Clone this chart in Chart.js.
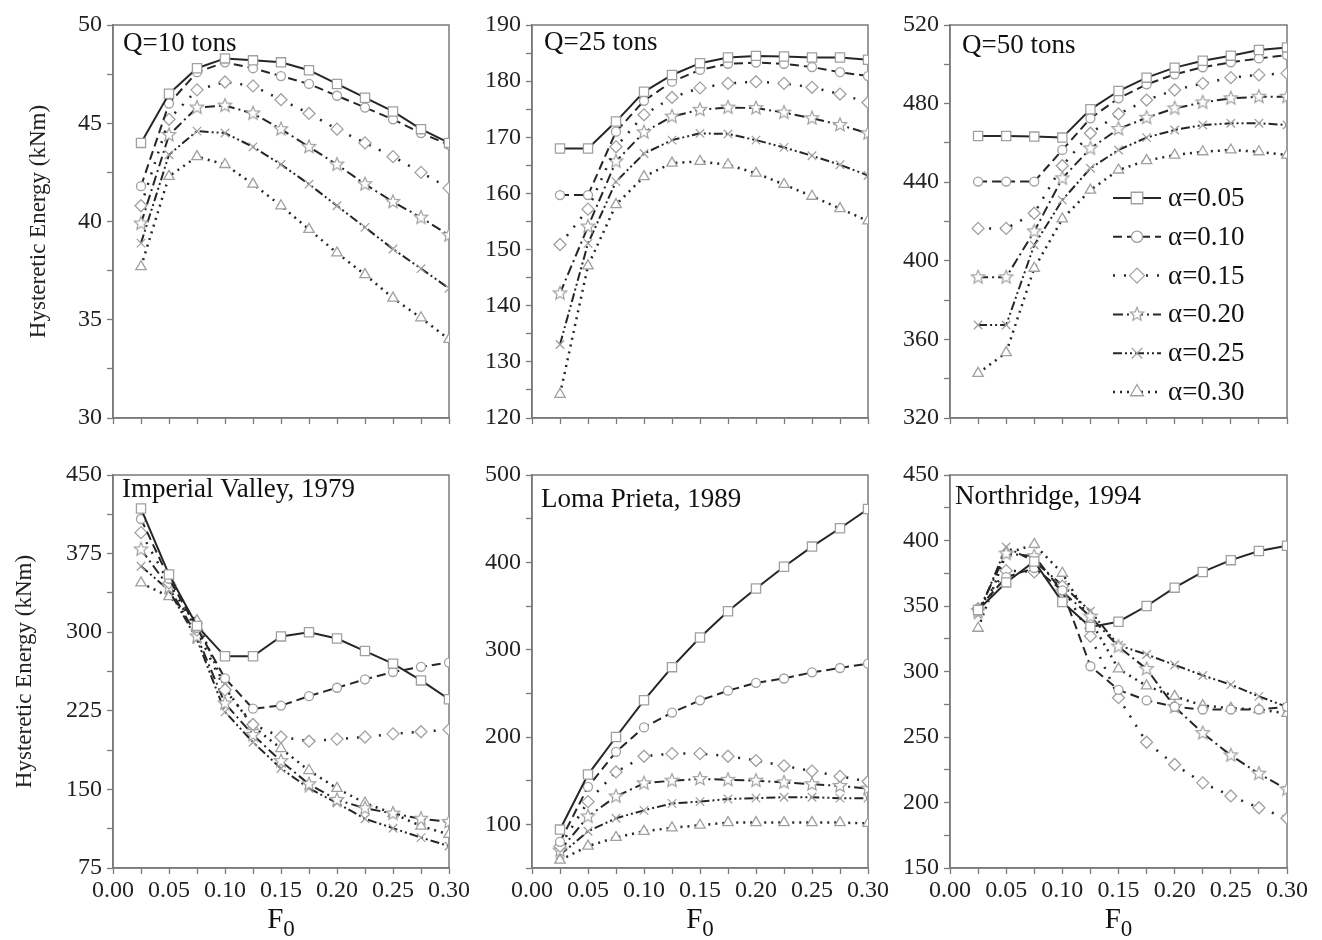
<!DOCTYPE html>
<html lang="en">
<head>
<meta charset="UTF-8" />
<title>Hysteretic energy vs F0</title>
<script src="https://cdn.jsdelivr.net/npm/chart.js"></script>
<style>
  body { margin: 0; background: #fff; }
  #wrap { position: relative; width: 1322px; height: 940px; }
  #wrap canvas { position: absolute; }
</style>
</head>
<body>
<div id="wrap">
  <canvas id="c1"></canvas>
  <canvas id="c2"></canvas>
  <canvas id="c3"></canvas>
  <canvas id="c4"></canvas>
  <canvas id="c5"></canvas>
  <canvas id="c6"></canvas>
</div>
<script>
// F0 values (x) and series labels
const F0 = [0.025, 0.05, 0.075, 0.1, 0.125, 0.15, 0.175, 0.2, 0.225, 0.25, 0.275, 0.3];
const alphaLabels = ["α=0.05", "α=0.10", "α=0.15", "α=0.20", "α=0.25", "α=0.30"];
const xTickValues = [0, 0.025, 0.05, 0.075, 0.1, 0.125, 0.15, 0.175, 0.2, 0.225, 0.25, 0.275, 0.3];
const xTickLabels = ["0.00", "", "0.05", "", "0.10", "", "0.15", "", "0.20", "", "0.25", "", "0.30"];

// hysteretic energy (kNm), one row per alpha
const q10 = [
  [44.0, 46.5, 47.8, 48.3, 48.2, 48.1, 47.7, 47.0, 46.3, 45.6, 44.7, 44.0],
  [41.8, 46.0, 47.6, 48.1, 47.8, 47.4, 47.0, 46.4, 45.8, 45.2, 44.5, 43.9],
  [40.8, 45.2, 46.7, 47.1, 46.9, 46.2, 45.5, 44.7, 44.0, 43.3, 42.5, 41.7],
  [39.9, 44.4, 45.8, 45.9, 45.5, 44.7, 43.8, 42.9, 41.9, 41.0, 40.2, 39.3],
  [38.9, 43.4, 44.6, 44.5, 43.8, 42.9, 41.9, 40.8, 39.7, 38.6, 37.6, 36.6],
  [37.7, 42.3, 43.3, 42.9, 41.9, 40.8, 39.6, 38.4, 37.3, 36.1, 35.1, 34.0]
];
const q25 = [
  [168.0, 168.0, 172.8, 178.1, 181.1, 183.2, 184.2, 184.5, 184.4, 184.2, 184.2, 183.8],
  [159.7, 159.7, 171.0, 176.5, 179.9, 182.0, 183.1, 183.3, 183.1, 182.5, 181.6, 180.9],
  [150.9, 157.2, 168.3, 174.0, 177.1, 178.8, 179.6, 179.9, 179.6, 178.9, 177.7, 176.2],
  [142.2, 154.1, 165.7, 170.9, 173.7, 174.9, 175.3, 175.2, 174.4, 173.4, 172.2, 170.7],
  [133.1, 151.1, 162.1, 167.1, 169.5, 170.7, 170.6, 169.5, 168.2, 166.7, 165.1, 163.2],
  [124.2, 147.1, 158.0, 163.0, 165.4, 165.7, 165.1, 163.6, 161.6, 159.5, 157.3, 155.1]
];
const q50 = [
  [463.5, 463.5, 463.2, 462.7, 477.1, 486.4, 493.2, 498.3, 501.8, 504.4, 507.3, 508.6],
  [440.3, 440.3, 440.3, 456.4, 472.5, 482.7, 489.8, 494.9, 498.5, 501.0, 503.0, 504.7],
  [416.5, 416.5, 424.2, 448.4, 464.9, 474.7, 481.8, 486.9, 490.3, 493.2, 494.6, 495.4],
  [391.6, 391.6, 415.0, 442.0, 457.2, 467.1, 472.8, 477.6, 480.6, 482.7, 483.5, 483.5],
  [367.3, 367.3, 408.0, 430.9, 447.1, 456.4, 462.7, 466.6, 469.1, 470.0, 470.0, 469.1],
  [342.7, 353.3, 396.2, 421.3, 436.0, 446.2, 451.0, 453.8, 455.5, 456.4, 455.5, 453.8]
];
const imperial = [
  [418, 355, 306, 277, 277, 296, 300, 294, 282, 270, 254, 236],
  [408, 351, 304, 256, 227, 230, 239, 247, 255, 262, 267, 271],
  [395, 347, 302, 245, 212, 200, 196, 198, 200, 203, 205, 207],
  [379, 343, 296, 232, 202, 177, 155, 140, 132, 127, 122, 119],
  [363, 340, 293, 224, 195, 170, 151, 137, 122, 113, 104, 96],
  [347, 334, 311, 247, 210, 189, 168, 151, 137, 127, 115, 107]
];
const loma = [
  [94, 157, 200, 242, 280, 314, 344, 370, 395, 418, 439, 461],
  [80, 143, 183, 211, 228, 242, 253, 262, 267, 274, 279, 284],
  [75, 126, 160, 178, 181, 181, 178, 173, 167, 161, 155, 149],
  [70, 109, 132, 147, 150, 152, 151, 150, 148, 146, 144, 141],
  [65, 92, 107, 116, 124, 126, 129, 130, 131, 131, 130, 130],
  [59, 75, 85, 92, 96, 99, 102, 102, 102, 102, 102, 101]
];
const northridge = [
  [347, 368, 384, 353, 334, 338, 350, 364, 376, 385, 392, 396],
  [348, 372, 379, 362, 304, 286, 278, 273, 271, 271, 271, 273],
  [348, 377, 376, 365, 327, 280, 246, 229, 215, 205, 196, 188],
  [346, 390, 388, 361, 342, 319, 302, 273, 253, 236, 222, 210],
  [343, 395, 384, 366, 346, 320, 313, 305, 297, 290, 281, 273],
  [333, 390, 397, 375, 339, 302, 289, 281, 274, 272, 271, 268]
];

// y axis ranges: [min, max, minor step, label step]
const yQ10 = [30, 50, 2.5, 5];
const yQ25 = [120, 190, 5, 10];
const yQ50 = [320, 520, 20, 40];
const yImperial = [75, 450, 37.5, 75];
const yLoma = [50, 500, 50, 100];
const yNorthridge = [150, 450, 25, 50];

const SERIF = '"Liberation Serif", "Times New Roman", serif';
const LINE = "#262626";
const MARK = "#a0a0a0";
const AXIS = "#7a7a7a";

// open five point star for alpha = 0.20
function makeStar(r) {
  const c = document.createElement("canvas");
  const s = Math.ceil(r * 2 + 4);
  c.width = s; c.height = s;
  const g = c.getContext("2d");
  g.beginPath();
  for (let i = 0; i < 10; i++) {
    const ang = -Math.PI / 2 + i * Math.PI / 5;
    const rr = i % 2 ? r * 0.45 : r;
    g.lineTo(s / 2 + rr * Math.cos(ang), s / 2 + rr * Math.sin(ang));
  }
  g.closePath();
  g.fillStyle = "#fff"; g.fill();
  g.strokeStyle = MARK; g.lineWidth = 1.2; g.stroke();
  return c;
}

const styles = [
  { dash: [], point: "rect", r: 6.5, w: 2 },
  { dash: [9, 5], point: "circle", r: 4.5, w: 2 },
  { dash: [2, 9], point: "rectRot", r: 6, w: 2.5 },
  { dash: [10, 4, 2, 4], point: makeStar(7), r: 6, w: 2 },
  { dash: [9, 3, 2, 3, 2, 3], point: "crossRot", r: 6, w: 2 },
  { dash: [2, 5], point: "triangle", r: 6, w: 2.5 }
];

// canvases overlap a little so the last x label is not cut off
const cols = [
  { left: 0, width: 490, axisW: 113, padR: 41 },
  { left: 460, width: 450, axisW: 72, padR: 42 },
  { left: 880, width: 442, axisW: 70, padR: 35 }
];
const rows = [
  { top: 0, height: 440, padT: 25, axisH: 22 },
  { top: 440, height: 500, padT: 35, axisH: 72 }
];

const panels = [
  { id: "c1", data: q10, y: yQ10, title: "Q=10 tons", col: 0, row: 0, tdx: 10, tdy: 19, ytitlePad: 25 },
  { id: "c2", data: q25, y: yQ25, title: "Q=25 tons", col: 1, row: 0, tdx: 12, tdy: 18 },
  { id: "c3", data: q50, y: yQ50, title: "Q=50 tons", col: 2, row: 0, tdx: 12, tdy: 21, legend: true },
  { id: "c4", data: imperial, y: yImperial, title: "Imperial Valley, 1979", col: 0, row: 1, tdx: 9, tdy: 15, ytitlePad: 11 },
  { id: "c5", data: loma, y: yLoma, title: "Loma Prieta, 1989", col: 1, row: 1, tdx: 9, tdy: 25 },
  { id: "c6", data: northridge, y: yNorthridge, title: "Northridge, 1994", col: 2, row: 1, tdx: 5, tdy: 22 }
];

const framePlugin = {
  id: "frame",
  beforeDatasetsDraw(chart) {
    const { ctx, chartArea: a } = chart;
    ctx.save();
    ctx.strokeStyle = AXIS;
    ctx.lineWidth = 1.5;
    ctx.strokeRect(a.left, a.top, a.right - a.left, a.bottom - a.top);
    ctx.restore();
  }
};

// panel caption inside the plot, plus the F0 axis name (F with a subscript 0)
const titlePlugin = {
  id: "panelTitle",
  afterDraw(chart, args, opts) {
    const { ctx, chartArea: a } = chart;
    ctx.save();
    ctx.font = "27px " + SERIF;
    ctx.fillStyle = "#111";
    ctx.textBaseline = "middle";
    ctx.fillText(opts.text, a.left + opts.dx, a.top + opts.dy);
    if (opts.xname) {
      const cx = (a.left + a.right) / 2;
      ctx.textBaseline = "alphabetic";
      ctx.font = "29px " + SERIF;
      const fw = ctx.measureText("F").width;
      ctx.font = "23px " + SERIF;
      const zw = ctx.measureText("0").width;
      const x0 = cx - (fw + zw) / 2;
      ctx.font = "29px " + SERIF;
      ctx.fillText("F", x0, a.bottom + 60);
      ctx.font = "23px " + SERIF;
      ctx.fillText("0", x0 + fw, a.bottom + 68);
    }
    ctx.restore();
  }
};

// legend drawn inside the Q=50 panel
const innerLegend = {
  id: "innerLegend",
  afterDraw(chart, args, opts) {
    if (!opts.show) return;
    const { ctx, chartArea: a } = chart;
    chart.data.datasets.forEach((ds, i) => {
      const y = opts.top + i * opts.gap;
      const x0 = a.left + opts.dx;
      ctx.save();
      ctx.strokeStyle = ds.borderColor;
      ctx.lineWidth = ds.borderWidth;
      ctx.setLineDash(ds.borderDash);
      ctx.beginPath();
      ctx.moveTo(x0, y);
      ctx.lineTo(x0 + 48, y);
      ctx.stroke();
      ctx.setLineDash([]);
      ctx.fillStyle = "#fff";
      ctx.strokeStyle = MARK;
      ctx.lineWidth = 1.3;
      Chart.helpers.drawPoint(ctx, { pointStyle: ds.pointStyle, radius: ds.pointRadius * 1.25, rotation: 0, borderWidth: 1.3 }, x0 + 24, y);
      ctx.font = "27px " + SERIF;
      ctx.fillStyle = "#111";
      ctx.textBaseline = "middle";
      ctx.fillText(ds.label, x0 + 55, y + 1);
      ctx.restore();
    });
  }
};

function yTicks(cfg) {
  const [min, max, step] = cfg;
  const out = [];
  for (let v = min; v <= max + 1e-9; v += step) out.push(Math.round(v * 1000) / 1000);
  return out;
}

panels.forEach(p => {
  const col = cols[p.col], row = rows[p.row];
  const canvas = document.getElementById(p.id);
  canvas.width = col.width;
  canvas.height = row.height;
  canvas.style.left = col.left + "px";
  canvas.style.top = row.top + "px";

  const datasets = p.data.map((vals, i) => ({
    label: alphaLabels[i],
    data: vals.map((v, k) => ({ x: F0[k], y: v })),
    borderColor: LINE,
    borderWidth: styles[i].w,
    borderDash: styles[i].dash,
    pointStyle: styles[i].point,
    pointRadius: styles[i].r,
    pointBorderColor: MARK,
    pointBackgroundColor: "#fff",
    pointBorderWidth: 1.3,
    tension: 0,
    fill: false
  }));

  const [ymin, ymax, , ymajor] = p.y;
  const yVals = yTicks(p.y);
  const tickFont = { family: SERIF, size: 24 };

  new Chart(canvas.getContext("2d"), {
    type: "line",
    data: { datasets },
    plugins: [framePlugin, titlePlugin, innerLegend],
    options: {
      responsive: false,
      animation: false,
      events: [],
      layout: { padding: { top: row.padT, right: col.padR, left: 0, bottom: 0 } },
      plugins: {
        legend: { display: false },
        tooltip: { enabled: false },
        panelTitle: { text: p.title, dx: p.tdx, dy: p.tdy, xname: p.row === 1 },
        innerLegend: { show: !!p.legend, dx: 163, top: 198, gap: 38.8 }
      },
      scales: {
        x: {
          type: "linear",
          min: 0,
          max: 0.3,
          afterBuildTicks: s => { s.ticks = xTickValues.map(v => ({ value: v })); },
          afterFit: s => { s.height = row.axisH; s.paddingLeft = 0; s.paddingRight = 0; },
          ticks: {
            display: p.row === 1,
            autoSkip: false,
            maxRotation: 0,
            padding: 2,
            color: "#222",
            font: tickFont,
            callback: (v, idx) => xTickLabels[idx]
          },
          grid: { drawOnChartArea: false, tickLength: 6, tickColor: AXIS, tickWidth: 1.3 },
          border: { color: AXIS, width: 1.5 }
        },
        y: {
          min: ymin,
          max: ymax,
          afterBuildTicks: s => { s.ticks = yVals.map(v => ({ value: v })); },
          afterFit: s => { s.width = col.axisW; s.paddingTop = 0; s.paddingBottom = 0; },
          ticks: {
            autoSkip: false,
            padding: 5,
            color: "#222",
            font: tickFont,
            callback: v => {
              const r = v / ymajor;
              return Math.abs(r - Math.round(r)) < 1e-6 ? String(v) : "";
            }
          },
          grid: { drawOnChartArea: false, tickLength: 6, tickColor: AXIS, tickWidth: 1.3 },
          border: { color: AXIS, width: 1.5 },
          title: {
            display: p.col === 0,
            text: "Hysteretic Energy (kNm)",
            color: "#222",
            font: { family: SERIF, size: 23 },
            padding: { top: p.ytitlePad || 0 }
          }
        }
      }
    }
  });
});
</script>
</body>
</html>
